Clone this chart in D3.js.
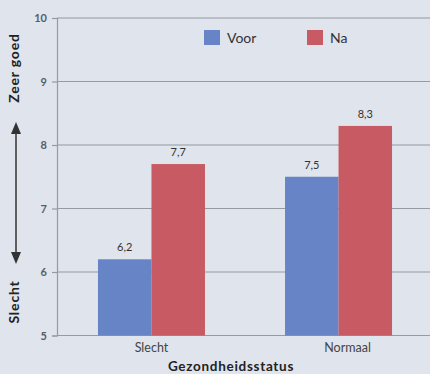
<!DOCTYPE html>
<html><head><meta charset="utf-8">
<script src="https://cdn.jsdelivr.net/npm/d3@7"></script>
<style>
html,body{margin:0;padding:0;background:#dfe4ed;}
svg{display:block;}
text{font-family:Lato,"Open Sans",sans-serif;}
</style></head>
<body>
<script>
const categories = ["Slecht", "Normaal"];
const seriesNames = ["Voor", "Na"];
const voor = [6.2, 7.5];
const na = [7.7, 8.3];
const yTicks = [5, 6, 7, 8, 9, 10];
const colors = ["#6784c6", "#c75a62"];

const W = 430, H = 374;
const svg = d3.select("body").append("svg").attr("width", W).attr("height", H);
svg.append("rect").attr("width", W).attr("height", H).attr("fill", "#dfe4ed");

const y = d3.scaleLinear().domain([5, 10]).range([335.5, 18]);
const x0 = d3.scaleBand().domain(categories).range([57, 433]).paddingInner(0.428).paddingOuter(0.219);
const x1 = d3.scaleBand().domain(seriesNames).range([0, x0.bandwidth()]);
const color = d3.scaleOrdinal().domain(seriesNames).range(colors);
const gridCol = "#969aa1";

// gridlines + y axis
const yAxis = d3.axisLeft(y).tickValues(yTicks).tickSize(5).tickPadding(5).tickFormat(d3.format("d"));
const ga = svg.append("g").attr("transform", "translate(57,0)").call(yAxis);
ga.select(".domain").attr("stroke", gridCol).attr("stroke-width", 1.2);
ga.selectAll(".tick line").attr("stroke", gridCol).attr("stroke-width", 1.2);
ga.selectAll(".tick text").attr("fill", "#5a5d63").attr("font-size", 11).attr("font-weight", "bold");
svg.append("g").selectAll("line").data(yTicks).join("line")
  .attr("x1", 57).attr("x2", W).attr("y1", d => y(d)).attr("y2", d => y(d))
  .attr("stroke", gridCol).attr("stroke-width", 1.2);

// bars
const data = categories.map((c, i) => ({cat: c, vals: [{s: "Voor", v: voor[i]}, {s: "Na", v: na[i]}]}));
const groups = svg.append("g").selectAll("g").data(data).join("g")
  .attr("transform", d => `translate(${x0(d.cat)},0)`);
groups.selectAll("rect").data(d => d.vals).join("rect")
  .attr("x", d => x1(d.s)).attr("width", x1.bandwidth())
  .attr("y", d => y(d.v)).attr("height", d => y(5) - y(d.v))
  .attr("fill", d => color(d.s));
groups.selectAll("text").data(d => d.vals).join("text")
  .attr("x", d => x1(d.s) + x1.bandwidth() / 2).attr("y", d => y(d.v) - 8)
  .attr("text-anchor", "middle").attr("font-size", 11).attr("fill", "#333")
  .text(d => d3.format(".1f")(d.v).replace(".", ","));

// x axis labels
const xa = svg.append("g").attr("transform", "translate(0,335.5)")
  .call(d3.axisBottom(x0).tickSize(0).tickPadding(8));
xa.select(".domain").remove();
xa.selectAll(".tick text").attr("fill", "#444").attr("font-size", 12.5)
  .attr("dx", (d, i) => i === 1 ? 9 : 0);
svg.append("text").attr("x", 231).attr("y", 371).attr("text-anchor", "middle")
  .attr("font-size", 13.5).attr("font-weight", "bold").attr("fill", "#222").attr("letter-spacing", 0.7)
  .text("Gezondheidsstatus");

// left labels
svg.append("text").attr("transform", "translate(19,68) rotate(-90)").attr("text-anchor", "middle")
  .attr("font-size", 14).attr("font-weight", "bold").attr("fill", "#222").attr("letter-spacing", 0.8).text("Zeer goed");
svg.append("text").attr("transform", "translate(19,302) rotate(-90)").attr("text-anchor", "middle")
  .attr("font-size", 14).attr("font-weight", "bold").attr("fill", "#222").attr("letter-spacing", 0.8).text("Slecht");
// arrow
svg.append("line").attr("x1", 16).attr("x2", 16).attr("y1", 130).attr("y2", 256)
  .attr("stroke", "#333").attr("stroke-width", 1.5);
svg.append("path").attr("d", "M16,122 L11,134 L21,134 Z").attr("fill", "#333");
svg.append("path").attr("d", "M16,264 L11,252 L21,252 Z").attr("fill", "#333");

// legend
const legX = [204, 307];
const lg = svg.append("g").selectAll("g").data(seriesNames).join("g")
  .attr("transform", (d, i) => `translate(${legX[i]},30)`);
lg.append("rect").attr("width", 16).attr("height", 15).attr("fill", d => color(d));
lg.append("text").attr("x", 23).attr("y", 13).attr("font-size", 14).attr("fill", "#333").text(d => d);
</script>
</body></html>
